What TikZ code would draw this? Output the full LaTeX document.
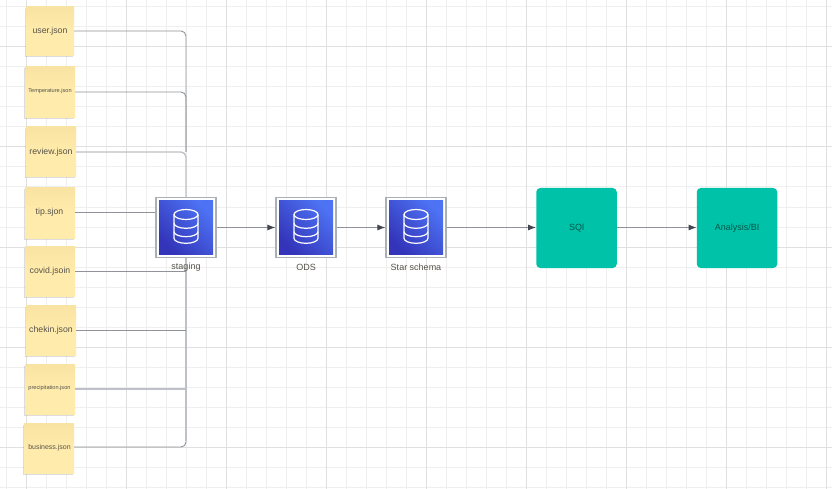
\documentclass[tikz,border=0pt]{standalone}
\usepackage{fontspec}
\setmainfont{Liberation Sans}
\usetikzlibrary{arrows.meta,shadows,calc}
\definecolor{minorg}{HTML}{EFEFEF}
\definecolor{majorg}{HTML}{E0E0E0}
\definecolor{stick}{HTML}{FFEBAB}
\definecolor{sticktop}{HTML}{F9E3A2}
\definecolor{wire}{HTML}{8F9298}
\definecolor{softwire}{HTML}{BDC0C6}
\definecolor{teal}{HTML}{00C2A8}
\definecolor{iconA}{HTML}{4D72F3}
\definecolor{iconB}{HTML}{3334B9}
\definecolor{frameg}{HTML}{A9B0B6}
\definecolor{txt}{HTML}{55524A}
\definecolor{tipc}{HTML}{44464F}
\tikzset{
  x=1pt,y=-1pt,
  note/.style={draw=none,minimum width=50pt,minimum height=50pt,inner sep=0pt,top color=sticktop,bottom color=stick,middle color=stick,
     drop shadow={shadow xshift=-1pt,shadow yshift=-1.5pt,opacity=.22,fill=black!60}},
  notetext/.style={font=\fontsize{8.7}{10}\selectfont,text=txt},
  smalltext/.style={font=\fontsize{5.6}{7}\selectfont,text=txt},
  wireline/.style={draw=wire,line width=.9pt},
  softline/.style={draw=softwire,line width=1.4pt},
  arrowline/.style={wireline,-{Latex[length=8pt,width=6pt,color=tipc]}},
  dbframe/.style={draw=frameg,line width=1.1pt,fill=white,minimum size=60pt,inner sep=0pt},
  tealbox/.style={fill=teal,rounded corners=4pt,minimum width=80.5pt,minimum height=80pt,inner sep=0pt,font=\fontsize{9}{10}\selectfont,text=black!55!teal},
  dblabel/.style={font=\fontsize{9}{10}\selectfont,text=txt},
  dbline/.style={draw=white,line width=1.2pt,line join=round}
}
\newcommand{\dbicon}[1]{%
  \shade[left color=iconB,right color=iconA,shading angle=135]
    ($(#1)+(-27,-26.5)$) rectangle ($(#1)+(27,26.5)$);
  \begin{scope}[shift={(#1)}]
    \draw[dbline] (0,-13) ellipse [x radius=12,y radius=5];
    \draw[dbline] (-12,-13) -- (-12,10.8) arc [start angle=180,end angle=0,x radius=12,y radius=5] -- (12,-13);
    \draw[dbline] (-12,-4.2) arc [start angle=180,end angle=0,x radius=12,y radius=5];
    \draw[dbline] (-12,4.2) arc [start angle=180,end angle=0,x radius=12,y radius=5];
  \end{scope}}
\begin{document}
\begin{tikzpicture}
\useasboundingbox (0,0) rectangle (832,489);
\fill[white] (0,0) rectangle (832,489);
\foreach \i in {0,...,41} \draw[minorg,line width=1pt] (6.67+20*\i,0) -- (6.67+20*\i,489);
\foreach \j in {0,...,24} \draw[minorg,line width=1pt] (0,7+20*\j) -- (832,7+20*\j);
\foreach \i in {0,...,8} \draw[majorg,line width=1pt] (26.67+100*\i,0) -- (26.67+100*\i,489);
\foreach \j in {0,...,4} \draw[majorg,line width=1pt] (0,47+100*\j) -- (832,47+100*\j);

\node[dbframe] (staging) at (186,227.5) {};
\node[dbframe] (ods) at (306,227.5) {};
\node[dbframe] (star) at (416,227.5) {};
\node[tealbox] (sql) at (576.5,228) {SQl};
\node[tealbox] (bi) at (737,228) {Analysis/BI};

\node[note,minimum width=48pt,minimum height=49pt] (user) at (50,31.5) {};
\node[note,minimum height=51pt] (temp) at (50,92.5) {};
\node[note] (review) at (51,152) {};
\node[note] (tip) at (50,213) {};
\node[note] (covid) at (50,271) {};
\node[note] (chekin) at (51,330) {};
\node[note] (pred) at (50,389) {};
\node[note] (bus) at (49,448) {};

\node[notetext] at (50,31) {user.json};
\node[smalltext] at (50,91.5) {Temperature.json};
\node[notetext] at (51,152) {review.json};
\node[notetext] at (49.5,212) {tip.sjon};
\node[notetext] at (50,271) {covid.jsoin};
\node[notetext] at (51,330) {chekin.json};
\node[smalltext] at (49.5,388.5) {precipitation.json};
\node[smalltext,font=\fontsize{7}{8}\selectfont] at (49.5,447.5) {business.json};

\coordinate (join) at (staging.north);
\coordinate (cornerend) at (186,441);
\draw[softline,rounded corners=5pt] (review.east |- 0,152) -- (186,152) -- (join);
\draw[wireline,rounded corners=5pt] (user.east |- 0,31) -- (186,31) -- (186,152);
\draw[wireline,rounded corners=5pt] (temp.east |- 0,92) -- (186,92) -- (186,152);
\draw[wireline] (tip.east |- 0,212) -- (staging.west |- 0,212);
\draw[softline] (pred.east |- 0,389) -- (186,389);
\draw[softline] (staging.south) -- (cornerend);
\draw[wireline,rounded corners=5pt] (bus.east |- 0,447) -- (186,447) -- (cornerend);
\draw[wireline] (covid.east |- 0,271) -- (186,271);
\draw[wireline] (chekin.east |- 0,330) -- (186,330);

\dbicon{staging}
\dbicon{ods}
\dbicon{star}
\node[dblabel] at (186,267) {staging};
\node[dblabel] at (306,267) {ODS};
\node[dblabel] at (416,267) {Star schema};

\draw[arrowline] (staging.east) -- (ods.west);
\draw[arrowline] (ods.east) -- (star.west);
\draw[arrowline] (star.east) -- (sql.west |- star.east);
\draw[arrowline] (sql.east |- 0,227.5) -- (bi.west |- 0,227.5);
\end{tikzpicture}
\end{document}
